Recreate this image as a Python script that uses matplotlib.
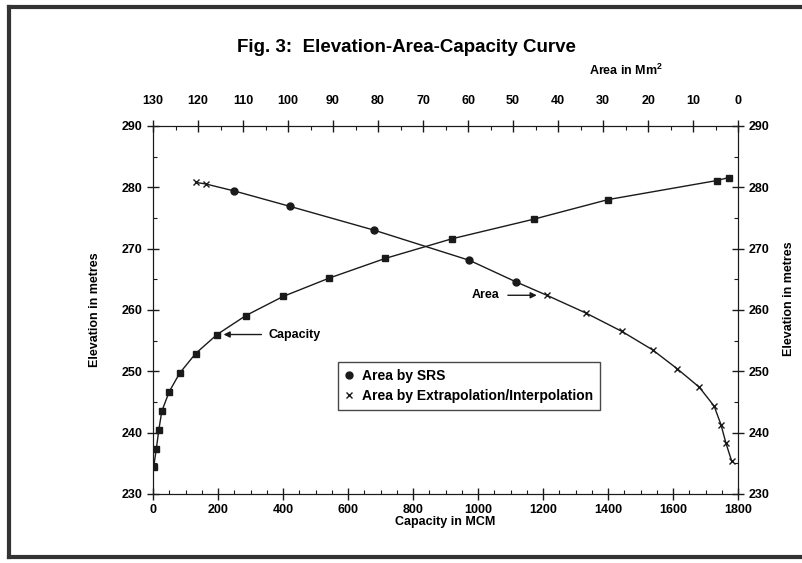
import matplotlib.pyplot as plt
from matplotlib.lines import Line2D
from matplotlib.ticker import MultipleLocator

# Capacity curve (bottom axis, MCM)
capacity = [2, 10, 18, 27, 50, 82, 131, 197, 286, 400, 542, 714, 919, 1171, 1400, 1734, 1772]
cap_elev = [234.4, 237.3, 240.5, 243.5, 246.7, 249.7, 252.9, 256.0, 259.1, 262.2,
            265.2, 268.4, 271.6, 274.8, 278.0, 281.1, 281.6]

# Area curve (top axis, Mm2)
area_srs = [111.9, 99.6, 80.8, 59.7, 49.4]
srs_elev = [279.4, 276.9, 273.0, 268.1, 264.6]
area_ext = [120.5, 118.3, 42.5, 33.8, 25.8, 19.0, 13.5, 8.6, 5.3, 3.8, 2.7, 1.4]
ext_elev = [280.8, 280.55, 262.4, 259.5, 256.5, 253.5, 250.4, 247.4, 244.3, 241.3, 238.3, 235.3]

plt.rcParams['font.family'] = ['Liberation Sans', 'DejaVu Sans']
plt.rcParams['font.weight'] = 'bold'
ink = '#1a1a1a'

fig = plt.figure(figsize=(8.02, 5.63), dpi=100)
ax = fig.add_axes([0.1908, 0.1226, 0.7295, 0.6536])

ax.plot(capacity, cap_elev, color=ink, lw=1, marker='s', ms=4.5, mfc=ink, mec=ink)
ax.set_xlim(0, 1800)
ax.set_ylim(230, 290)
ax.xaxis.set_major_locator(MultipleLocator(200))
ax.xaxis.set_minor_locator(MultipleLocator(50))
ax.yaxis.set_major_locator(MultipleLocator(10))
ax.yaxis.set_minor_locator(MultipleLocator(5))
ax.tick_params(which='major', direction='inout', length=8, width=1, color=ink, labelsize=9)
ax.tick_params(which='minor', direction='in', length=3, width=0.8, color=ink)
ax.tick_params(axis='y', right=True, labelright=True, which='both')
ax.set_xlabel('Capacity in MCM', fontsize=9, fontweight='bold', labelpad=0)
ax.set_ylabel('Elevation in metres', fontsize=9, fontweight='bold', labelpad=15)
for s in ax.spines.values():
    s.set_color(ink)

# top axis for area
ax2 = ax.twiny()
all_area = area_ext[:2] + area_srs + area_ext[2:]
all_elev = ext_elev[:2] + srs_elev + ext_elev[2:]
ax2.plot(all_area, all_elev, color=ink, lw=1)
ax2.plot(area_srs, srs_elev, ls='none', marker='o', ms=5, mfc=ink, mec=ink,
         label='Area by SRS')
ax2.plot(area_ext, ext_elev, ls='none', marker='x', ms=5, mew=1, color=ink,
         label='Area by Extrapolation/Interpolation')
ax2.set_xlim(130, 0)
ax2.xaxis.set_major_locator(MultipleLocator(10))
ax2.xaxis.set_minor_locator(MultipleLocator(5))
ax2.tick_params(which='major', direction='inout', length=8, width=1, color=ink,
                labelsize=9, pad=10)
ax2.tick_params(which='minor', direction='in', length=3, width=0.8, color=ink)
for s in ax2.spines.values():
    s.set_color(ink)

fig.text(789 / 802, 0.47, 'Elevation in metres', rotation=90,
         fontsize=9, fontweight='bold', ha='center', va='center')
fig.text(626 / 802, 1 - 70 / 563, 'Area in Mm$^\\mathregular{2}$', fontsize=9,
         fontweight='bold', ha='center', va='center')
fig.text(406 / 802, 1 - 47 / 563, 'Fig. 3:  Elevation-Area-Capacity Curve', fontsize=13.5,
         fontweight='bold', ha='center', va='center')

leg = ax2.legend(loc='upper left', bbox_to_anchor=((338 - 153) / 585, (494 - 362) / 368),
                 frameon=True, fancybox=False, fontsize=10, handlelength=0.6,
                 handletextpad=0.6, borderpad=0.5, labelspacing=0.45, borderaxespad=0)
leg.get_frame().set_edgecolor(ink)
leg.get_frame().set_linewidth(1)

ax.annotate('Capacity', xy=(200, 256.0), xytext=(355, 256.0), fontsize=9,
            fontweight='bold', va='center',
            arrowprops=dict(arrowstyle='-|>', color=ink, lw=1, shrinkA=3, shrinkB=4))
ax2.annotate('Area', xy=(43.5, 262.4), xytext=(53, 262.4), fontsize=9,
             fontweight='bold', va='center', ha='right',
             arrowprops=dict(arrowstyle='-|>', color=ink, lw=1, shrinkA=4, shrinkB=4))

# scanned page frame
for x0, y0, x1, y1 in [(9, 7, 802, 7), (9, 557, 802, 557), (9, 7, 9, 557)]:
    fig.add_artist(Line2D([x0 / 802, x1 / 802], [1 - y0 / 563, 1 - y1 / 563],
                          transform=fig.transFigure, color='#333333', lw=3))

fig.savefig('out.png', dpi=100)
